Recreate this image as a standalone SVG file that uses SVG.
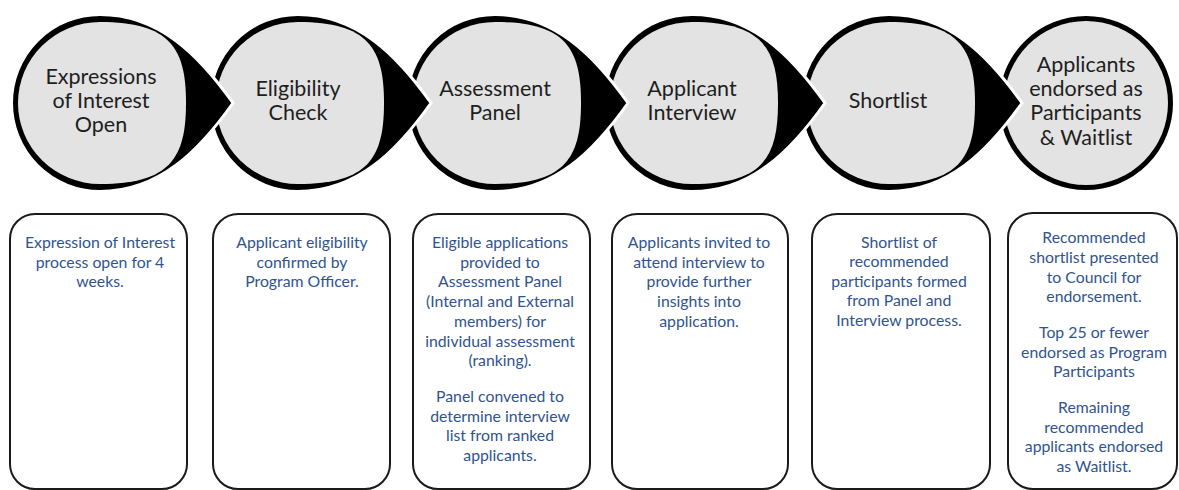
<svg xmlns="http://www.w3.org/2000/svg" width="1179" height="490" viewBox="0 0 1179 490">
<style>
.ct{font-family:Lato,"Open Sans",sans-serif;font-size:21.5px;fill:#1e1e1e;text-anchor:middle}
.bt{font-family:Lato,"Open Sans",sans-serif;font-size:15.8px;fill:#30548f;text-anchor:middle}
.box{fill:#fff;stroke:#1a1a1a;stroke-width:2}
.drop{fill:#000;stroke:#fff;stroke-width:3}
.fill{fill:#e3e3e3}
</style>
<defs>
<path id="drop" d="M133 0 C99 -48 59 -88.5 0 -88.5 A88.5 88.5 0 0 0 0 88.5 C59 88.5 99 48 133 0Z"/>
<path id="inner" d="M0 -81 A82 81 0 0 0 0 81 C70 81 86 55 86 0 C86 -55 70 -81 0 -81Z"/>
</defs>
<rect width="1179" height="490" fill="#fff"/>
<g id="connectors"/>
<g id="step6">
<circle cx="1086" cy="103" r="88.5" class="drop"/>
<circle cx="1086" cy="103" r="82" class="fill"/>
<text class="ct"><tspan x="1086" y="71.5">Applicants</tspan><tspan x="1086" y="96">endorsed as</tspan><tspan x="1086" y="120.3">Participants</tspan><tspan x="1086" y="144.6">&amp; Waitlist</tspan></text>
</g>
<g id="step5">
<use href="#drop" x="889" y="103" class="drop"/>
<use href="#inner" x="889" y="103" class="fill"/>
<text class="ct" x="888" y="108">Shortlist</text>
</g>
<g id="step4">
<use href="#drop" x="692" y="103" class="drop"/>
<use href="#inner" x="692" y="103" class="fill"/>
<text class="ct"><tspan x="692" y="96">Applicant</tspan><tspan x="692" y="120.3">Interview</tspan></text>
</g>
<g id="step3">
<use href="#drop" x="495" y="103" class="drop"/>
<use href="#inner" x="495" y="103" class="fill"/>
<text class="ct"><tspan x="495" y="96">Assessment</tspan><tspan x="495" y="120.3">Panel</tspan></text>
</g>
<g id="step2">
<use href="#drop" x="298" y="103" class="drop"/>
<use href="#inner" x="298" y="103" class="fill"/>
<text class="ct"><tspan x="298" y="96">Eligibility</tspan><tspan x="298" y="120.3">Check</tspan></text>
</g>
<g id="step1">
<use href="#drop" x="100" y="103" class="drop"/>
<use href="#inner" x="100" y="103" class="fill"/>
<text class="ct"><tspan x="101" y="83.7">Expressions</tspan><tspan x="101" y="108">of Interest</tspan><tspan x="101" y="132.3">Open</tspan></text>
</g>
<g id="box1">
<rect class="box" x="10" y="214" width="177" height="275" rx="25"/>
<text class="bt"><tspan x="100" y="248">Expression of Interest</tspan><tspan x="100" y="268">process open for 4</tspan><tspan x="100" y="287">weeks.</tspan></text>
</g>
<g id="box2">
<rect class="box" x="213" y="214" width="177" height="275" rx="25"/>
<text class="bt"><tspan x="302" y="248">Applicant eligibility</tspan><tspan x="302" y="268">confirmed by</tspan><tspan x="302" y="287">Program Officer.</tspan></text>
</g>
<g id="box3">
<rect class="box" x="413" y="214" width="177" height="275" rx="25"/>
<text class="bt"><tspan x="500" y="248">Eligible applications</tspan><tspan x="500" y="268">provided to</tspan><tspan x="500" y="287">Assessment Panel</tspan><tspan x="500" y="307">(Internal and External</tspan><tspan x="500" y="327">members) for</tspan><tspan x="500" y="347">individual assessment</tspan><tspan x="500" y="366">(ranking).</tspan><tspan x="500" y="402">Panel convened to</tspan><tspan x="500" y="422">determine interview</tspan><tspan x="500" y="441">list from ranked</tspan><tspan x="500" y="461">applicants.</tspan></text>
</g>
<g id="box4">
<rect class="box" x="612" y="214" width="176" height="275" rx="25"/>
<text class="bt"><tspan x="699" y="248">Applicants invited to</tspan><tspan x="699" y="268">attend interview to</tspan><tspan x="699" y="287">provide further</tspan><tspan x="699" y="307">insights into</tspan><tspan x="699" y="327">application.</tspan></text>
</g>
<g id="box5">
<rect class="box" x="812" y="214" width="178" height="275" rx="25"/>
<text class="bt"><tspan x="899" y="248">Shortlist of</tspan><tspan x="899" y="267">recommended</tspan><tspan x="899" y="287">participants formed</tspan><tspan x="899" y="306">from Panel and</tspan><tspan x="899" y="326">Interview process.</tspan></text>
</g>
<g id="box6">
<rect class="box" x="1008" y="213" width="169" height="276" rx="25"/>
<text class="bt"><tspan x="1094" y="243">Recommended</tspan><tspan x="1094" y="263">shortlist presented</tspan><tspan x="1094" y="283">to Council for</tspan><tspan x="1094" y="302">endorsement.</tspan><tspan x="1094" y="338">Top 25 or fewer</tspan><tspan x="1094" y="358">endorsed as Program</tspan><tspan x="1094" y="377">Participants</tspan><tspan x="1094" y="413">Remaining</tspan><tspan x="1094" y="433">recommended</tspan><tspan x="1094" y="452">applicants endorsed</tspan><tspan x="1094" y="472">as Waitlist.</tspan></text>
</g>
</svg>
